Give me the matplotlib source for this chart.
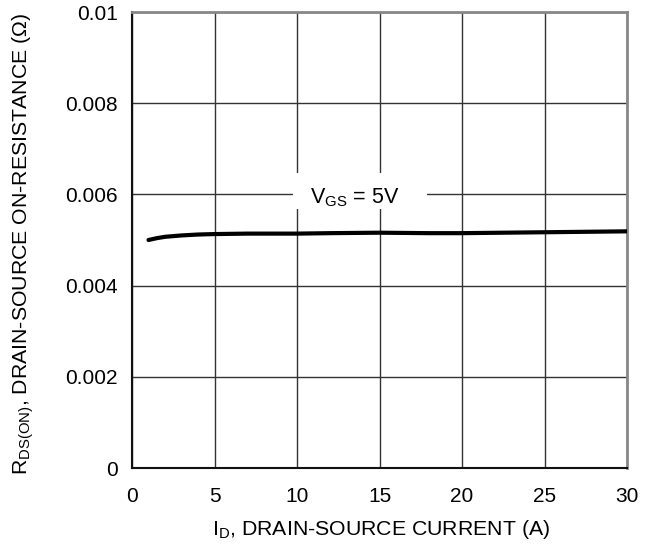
import matplotlib
matplotlib.use("Agg")
import matplotlib.pyplot as plt
from matplotlib.patches import Rectangle

plt.rcParams['font.family'] = ['Liberation Sans', 'DejaVu Sans']

current_a = [1, 1.5, 2, 3, 4, 5, 7, 10, 12, 15, 18, 20, 25, 30]
rdson_ohm = [0.00500, 0.00504, 0.00507, 0.00510, 0.00512, 0.00513, 0.00514, 0.00514, 0.00515, 0.00516, 0.00515, 0.00515, 0.00517, 0.00519]

x_ticks = [0, 5, 10, 15, 20, 25, 30]
y_ticks = [0, 0.002, 0.004, 0.006, 0.008, 0.01]
y_ticklabels = ["0", "0.002", "0.004", "0.006", "0.008", "0.01"]

W, H = 655, 548
L, R, T, B = 132, 627, 12, 468

fig = plt.figure(figsize=(W/100, H/100), dpi=100)
ax = fig.add_axes([L/W, 1-B/H, (R-L)/W, (B-T)/H])

ax.set_xlim(0, 30)
ax.set_ylim(0, 0.01)
ax.set_xticks(x_ticks)
ax.set_yticks(y_ticks)
ax.set_yticklabels(y_ticklabels)
ax.tick_params(axis='both', length=0, labelsize=15)
ax.tick_params(axis='x', pad=14)
ax.tick_params(axis='y', pad=10)

ax.grid(True, color='#333333', linewidth=1.0)
ax.set_axisbelow(True)

for s in ['left', 'bottom']:
    ax.spines[s].set_color('#111111')
    ax.spines[s].set_linewidth(1.5)
for s in ['top', 'right']:
    ax.spines[s].set_color('#888888')
    ax.spines[s].set_linewidth(2.0)

ax.plot(current_a, rdson_ohm, color='black', linewidth=3.0, solid_capstyle='round', zorder=3)

# label with white background box
def xv(px):
    return (px - L) / (R - L) * 30
def yv(py):
    return (B - py) / (B - T) * 0.01

bx0, bx1 = xv(293), xv(427)
by0, by1 = yv(209), yv(173)
ax.add_patch(Rectangle((bx0, by0), bx1-bx0, by1-by0, facecolor='white', edgecolor='none', zorder=2.5))
ax.text(xv(355), yv(203), r"V$_{\mathregular{GS}}$ = 5V", fontsize=15.5, ha='center', va='baseline', zorder=4)

ax.set_xlabel(r"I$_{\mathregular{D}}$, DRAIN-SOURCE CURRENT (A)", fontsize=15.3, va='baseline')
ax.xaxis.set_label_coords(((213+550)/2 - L)/(R-L), (B-535)/(B-T))
ax.set_ylabel(r"R$_{\mathregular{DS(ON)}}$, DRAIN-SOURCE ON-RESISTANCE (Ω)", fontsize=15.3, va='center')
ax.yaxis.set_label_coords((23 - L)/(R-L), (B-244)/(B-T))

fig.savefig("out.png", dpi=100)
